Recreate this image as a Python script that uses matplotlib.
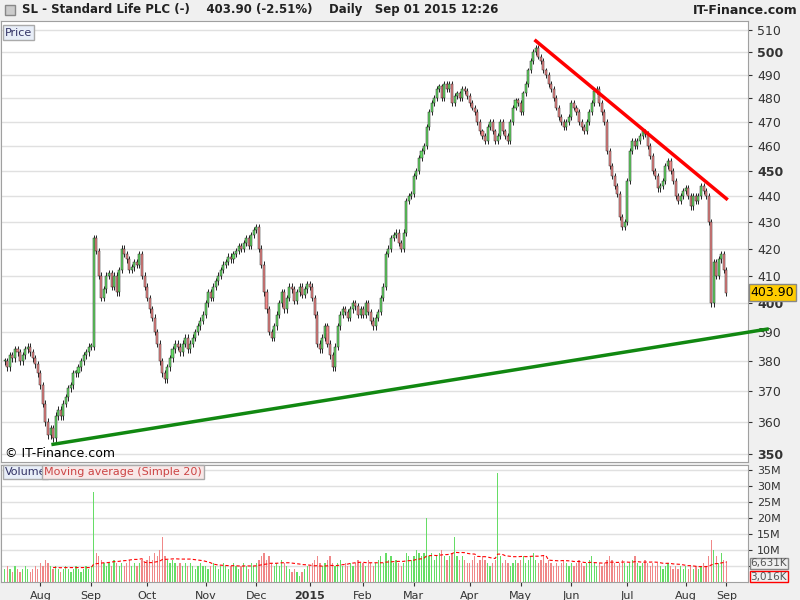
import matplotlib.pyplot as plt
import numpy as np
from matplotlib.ticker import FixedLocator, NullLocator

# daily closes, month by month (Jul 2014 .. Sep 2015)
months = ["Jul", "Aug", "Sep", "Oct", "Nov", "Dec", "2015", "Feb", "Mar", "Apr",
          "May", "Jun", "Jul", "Aug", "Sep"]
closes = [
    [380, 378, 382, 381, 384, 383, 380, 382, 384, 385, 383, 381, 379, 376],
    [372, 366, 360, 356, 358, 355, 362, 364, 362, 366, 368, 371, 372, 376, 376, 378, 380, 382, 383, 385],
    [385, 424, 419, 410, 402, 405, 410, 411, 406, 410, 404, 412, 420, 418, 416, 412, 413, 415, 414, 418, 410, 406],
    [402, 398, 395, 390, 386, 380, 376, 374, 378, 381, 384, 386, 385, 383, 386, 388, 384, 386, 388, 390, 392, 394, 396],
    [400, 404, 402, 406, 408, 410, 412, 414, 415, 417, 416, 418, 419, 421, 420, 422, 424, 421, 425, 427],
    [428, 420, 414, 404, 398, 390, 388, 392, 396, 400, 404, 398, 402, 406, 405, 401, 404, 406, 403, 405, 407],
    [406, 402, 396, 386, 384, 388, 392, 386, 382, 378, 385, 392, 396, 398, 397, 395, 398, 400, 399, 396, 398],
    [396, 400, 397, 394, 392, 395, 397, 402, 406, 418, 420, 424, 425, 426, 422, 420, 426, 438, 440, 441],
    [448, 450, 455, 458, 460, 468, 474, 478, 480, 484, 485, 480, 486, 484, 486, 478, 481, 482, 480, 484, 483, 481],
    [478, 476, 474, 470, 466, 464, 462, 468, 470, 466, 462, 464, 470, 466, 464, 462, 470, 476, 479, 478],
    [474, 482, 486, 492, 496, 500, 502, 498, 496, 492, 490, 486, 484, 480, 476, 472, 470, 468, 470, 472],
    [478, 476, 474, 470, 468, 466, 470, 474, 478, 483, 484, 478, 474, 470, 458, 452, 448, 444, 441, 432, 428, 430],
    [446, 458, 462, 460, 462, 464, 466, 465, 460, 456, 450, 448, 443, 444, 446, 452, 454, 450, 446, 440, 438, 440, 442],
    [443, 440, 436, 440, 438, 440, 444, 442, 440, 430, 400, 415, 410, 416, 418, 412],
    [403.9],
]
volumes = [
    [4, 5, 4, 3, 5, 4, 3, 4, 5, 4, 3, 4, 5, 4],
    [6, 5, 7, 6, 5, 4, 5, 4, 3, 4, 5, 4, 3, 4, 5, 4, 3, 4, 5, 4],
    [5, 28, 9, 8, 7, 6, 5, 6, 5, 7, 6, 5, 6, 5, 6, 7, 5, 6, 5, 6, 7, 6],
    [7, 8, 7, 9, 8, 10, 14, 8, 7, 6, 7, 6, 5, 6, 5, 6, 5, 6, 5, 4, 5, 6, 5],
    [5, 4, 5, 6, 5, 4, 5, 6, 5, 4, 5, 6, 5, 4, 5, 6, 5, 4, 6, 5],
    [6, 7, 8, 9, 7, 8, 6, 5, 6, 5, 7, 6, 5, 4, 3, 4, 3, 2, 3, 4, 5],
    [5, 6, 7, 8, 6, 5, 6, 7, 8, 6, 5, 6, 7, 5, 6, 5, 6, 5, 6, 7, 6],
    [6, 5, 7, 6, 5, 6, 7, 8, 6, 9, 7, 8, 6, 7, 6, 5, 6, 9, 8, 7],
    [8, 10, 9, 8, 9, 20, 8, 9, 7, 8, 9, 10, 8, 7, 8, 9, 14, 8, 7, 8, 7, 6],
    [6, 7, 8, 6, 7, 8, 7, 6, 5, 6, 7, 34, 8, 6, 7, 6, 5, 6, 7, 6],
    [7, 8, 6, 7, 8, 9, 7, 6, 7, 8, 6, 7, 6, 5, 6, 5, 6, 7, 6, 5],
    [6, 5, 6, 7, 6, 5, 6, 7, 8, 6, 5, 6, 5, 6, 7, 8, 7, 6, 5, 6, 7, 6],
    [5, 6, 7, 8, 6, 5, 6, 7, 6, 5, 6, 5, 6, 5, 4, 5, 6, 5, 4, 5, 4, 5, 4],
    [5, 4, 5, 4, 5, 4, 5, 6, 5, 8, 13, 10, 8, 6, 9, 7],
    [6.6],
]

price_ticks = [350, 360, 370, 380, 390, 400, 410, 420, 430, 440, 450, 460, 470, 480, 490, 500, 510]
vol_ticks = [5, 10, 15, 20, 25, 30, 35]

close = np.concatenate([np.array(c, float) for c in closes])
vol = np.concatenate([np.array(v, float) for v in volumes])
opn = np.concatenate([[close[0]], close[:-1]])
n = len(close)
x = np.arange(n)
starts = np.cumsum([0] + [len(c) for c in closes[:-1]])

W, H = 800, 600
fig = plt.figure(figsize=(8, 6), dpi=100, facecolor="#f0f0f0")
ax = fig.add_axes([1 / W, 1 - 462 / H, 747 / W, 441 / H])
axv = fig.add_axes([1 / W, 1 - 582 / H, 747 / W, 117 / H])

up = close >= opn
green, red = "#66dd66", "#f08888"
for a in (ax, axv):
    a.set_facecolor("white")
    a.set_xlim(-1.5, n + 7.5)
    for s in a.spines.values():
        s.set_color("#a0a0a0")

# candles
body_lo = np.minimum(opn, close)
body_hi = np.maximum(opn, close)
body_h = np.maximum(body_hi - body_lo, 0.6)
ax.vlines(x, body_lo - 1.2, body_hi + 1.2, color="black", lw=0.6, zorder=2)
ax.bar(x, body_h, bottom=body_lo, width=0.8, color=np.where(up, green, red),
       edgecolor="#222222", linewidth=0.35, zorder=3)

ax.set_yscale("log")
ax.set_ylim(347.5, 514)
ax.yaxis.set_major_locator(FixedLocator(price_ticks))
ax.yaxis.set_minor_locator(NullLocator())
ax.yaxis.tick_right()
ax.set_yticklabels([str(t) for t in price_ticks])
for lab, t in zip(ax.get_yticklabels(), price_ticks):
    if t % 50 == 0:
        lab.set_fontweight("bold")
ax.tick_params(axis="y", labelsize=9, length=3, colors="#333333")
ax.grid(axis="y", color="#e0e0e0", lw=1)
ax.set_xticks([])

# trend lines
peak = int(np.argmax(close))
low = int(np.argmin(close[:60]))
ax.plot([peak, n - 1], [505, 439], color="red", lw=2.5, zorder=4)
ax.plot([low, n + 15], [353, 391], color="#118811", lw=2.5, zorder=4, clip_on=False)

ax.text(n + 8.5, close[-1], f"{close[-1]:.2f}", fontsize=9, va="center", ha="left",
        bbox=dict(boxstyle="square,pad=0.15", fc="#ffcc00", ec="#888888"))
ax.text(0.005, 0.985, "Price", transform=ax.transAxes, fontsize=8, va="top", color="#333366",
        bbox=dict(boxstyle="square,pad=0.2", fc="#e8eef8", ec="#aaaaaa"))
ax.text(0.005, 0.005, "© IT-Finance.com", transform=ax.transAxes, fontsize=9, va="bottom")

# volume
axv.bar(x, vol, width=0.5, color=np.where(up, green, red), zorder=2)
ma = np.convolve(vol, np.ones(20) / 20, mode="full")[:n]
ma[:19] = np.nan
axv.plot(x, ma, color="red", lw=0.8, ls=(0, (3, 2)), zorder=3)
axv.set_ylim(0, 36.5)
axv.yaxis.tick_right()
axv.set_yticks(vol_ticks)
# the 5M label sits under the value boxes, as in the source chart
axv.set_yticklabels(["" if t == 5 else f"{t}M" for t in vol_ticks])
axv.tick_params(axis="y", labelsize=8, length=3, colors="#333333")
axv.grid(axis="y", color="#e0e0e0", lw=1)
axv.text(n + 8.5, 5.8, "6,631K", fontsize=7.5, va="center", color="#555555",
         bbox=dict(boxstyle="square,pad=0.05", fc="#f0f0f0", ec="#888888"))
axv.text(n + 8.5, 1.6, "3,016K", fontsize=7.5, va="center", color="#555555",
         bbox=dict(boxstyle="square,pad=0.05", fc="#f0f0f0", ec="red"))
axv.text(0.005, 0.985, "Volume", transform=axv.transAxes, fontsize=8, va="top", color="#333366",
         bbox=dict(boxstyle="square,pad=0.2", fc="#e8eef8", ec="#aaaaaa"))
axv.text(0.058, 0.985, "Moving average (Simple 20)", transform=axv.transAxes, fontsize=8,
         va="top", color="#cc4444", bbox=dict(boxstyle="square,pad=0.2", fc="#f8e8e8", ec="#aaaaaa"))

axv.set_xticks(starts[1:])
axv.set_xticklabels(months[1:])
for lab, m in zip(axv.get_xticklabels(), months[1:]):
    if m == "2015":
        lab.set_fontweight("bold")
        lab.set_fontsize(10)
axv.tick_params(axis="x", labelsize=8, length=3, colors="#333333")

fig.text(22 / W, 1 - 10 / H, "SL - Standard Life PLC (-)    403.90 (-2.51%)    Daily   Sep 01 2015 12:26",
         fontsize=8.5, va="center", fontweight="bold", color="#222222")
fig.text(1 - 2 / W, 1 - 10 / H, "IT-Finance.com", fontsize=9, va="center", ha="right",
         fontweight="bold", color="#222222")
fig.patches.append(plt.Rectangle((5 / W, 1 - 15 / H), 10 / W, 10 / H, transform=fig.transFigure,
                                 fc="#cccccc", ec="#888888"))

fig.savefig("out.png", dpi=100, facecolor=fig.get_facecolor())
